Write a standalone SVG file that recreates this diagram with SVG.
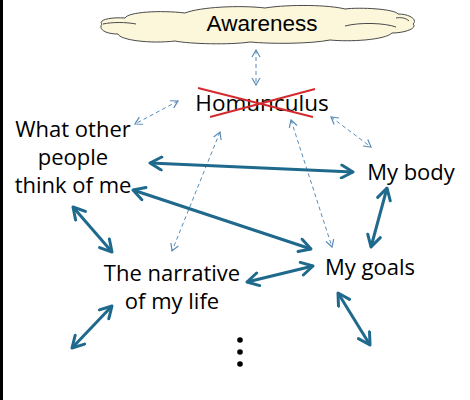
<svg xmlns="http://www.w3.org/2000/svg" width="470" height="400" viewBox="0 0 470 400">
<defs>
<style>
.t{font-family:"Open Sans","Liberation Sans",sans-serif;font-size:22px;fill:#000;text-anchor:middle}
.aw{font-family:"Liberation Sans",Arial,sans-serif;font-size:22.5px;fill:#000;text-anchor:middle}
.s{stroke:#1F6A8C;stroke-width:3;fill:none;marker-start:url(#ah);marker-end:url(#ah)}
.d{stroke:#5B8CB6;stroke-width:1;stroke-dasharray:4 3;fill:none;marker-start:url(#dh);marker-end:url(#dh)}
.x{stroke:#D42A2F;stroke-width:2}
</style>
<marker id="ah" markerUnits="userSpaceOnUse" viewBox="0 0 16 16" refX="14" refY="8" markerWidth="16" markerHeight="16" orient="auto-start-reverse">
<path d="M2.5,1.5 L14,8 L2.5,14.5" fill="none" stroke="#1F6A8C" stroke-width="3" stroke-linecap="round" stroke-linejoin="round"/>
</marker>
<marker id="dh" markerUnits="userSpaceOnUse" viewBox="0 0 10 10" refX="9" refY="5" markerWidth="10" markerHeight="10" orient="auto-start-reverse">
<path d="M2,1 L9,5 L2,9" fill="none" stroke="#5B8CB6" stroke-width="1.2"/>
</marker>
</defs>
<rect width="470" height="400" fill="#fff"/>
<rect x="0" y="0" width="3" height="400" fill="#000"/>
<g id="awareness">
<path d="M102,24 C98,20 110,17 125,18 C128,12 160,10 185,13 C200,7 240,5 265,8 C290,4 330,5 345,9 C360,7 395,9 398,14 C410,14 418,20 413,24 C418,28 405,33 392,33 C385,40 350,42 330,40 C310,44 270,44 250,42 C230,45 190,44 175,41 C150,44 120,40 118,34 C105,34 98,29 102,24 Z" fill="#FCF7DB" stroke="#4a4a4a" stroke-width="1"/>
<path d="M103,24 C112,22 126,22 136,24 M345,26 C360,22 385,23 396,27 M396,18 C401,17 406,18 409,21" fill="none" stroke="#4a4a4a" stroke-width="1"/>
<text class="aw" x="262" y="31">Awareness</text>
</g>
<g id="homunculus">
<text class="t" x="262" y="111" style="font-size:22.5px">Homunculus</text>
<line class="x" x1="198" y1="88" x2="313" y2="117"/>
<line class="x" x1="210" y1="117" x2="315" y2="89"/>
</g>
<g id="others">
<text class="t" x="73" y="137">What other</text>
<text class="t" x="73" y="165">people</text>
<text class="t" x="73" y="193">think of me</text>
</g>
<g id="body"><text class="t" x="411" y="180">My body</text></g>
<g id="goals"><text class="t" x="370" y="275">My goals</text></g>
<g id="narrative">
<text class="t" x="172" y="281">The narrative</text>
<text class="t" x="172" y="309">of my life</text>
</g>
<g id="ellipsis" fill="#000">
<circle cx="240" cy="340" r="2.8"/>
<circle cx="240" cy="352" r="2.8"/>
<circle cx="240" cy="364" r="2.8"/>
</g>
<g id="connectors">
<line class="d" x1="256" y1="50" x2="256" y2="85"/>
<line class="d" x1="178" y1="101" x2="135" y2="124"/>
<line class="d" x1="220" y1="132" x2="172" y2="251"/>
<line class="d" x1="291" y1="120" x2="332" y2="247"/>
<line class="d" x1="331" y1="117" x2="371" y2="147"/>
<line class="s" x1="150" y1="163" x2="353" y2="172"/>
<line class="s" x1="133" y1="190" x2="311" y2="249"/>
<line class="s" x1="387" y1="188" x2="371" y2="247"/>
<line class="s" x1="73" y1="207" x2="112" y2="252"/>
<line class="s" x1="247" y1="282" x2="313" y2="266"/>
<line class="s" x1="112" y1="306" x2="72" y2="348"/>
<line class="s" x1="338" y1="293" x2="370" y2="345"/>
</g>
</svg>
